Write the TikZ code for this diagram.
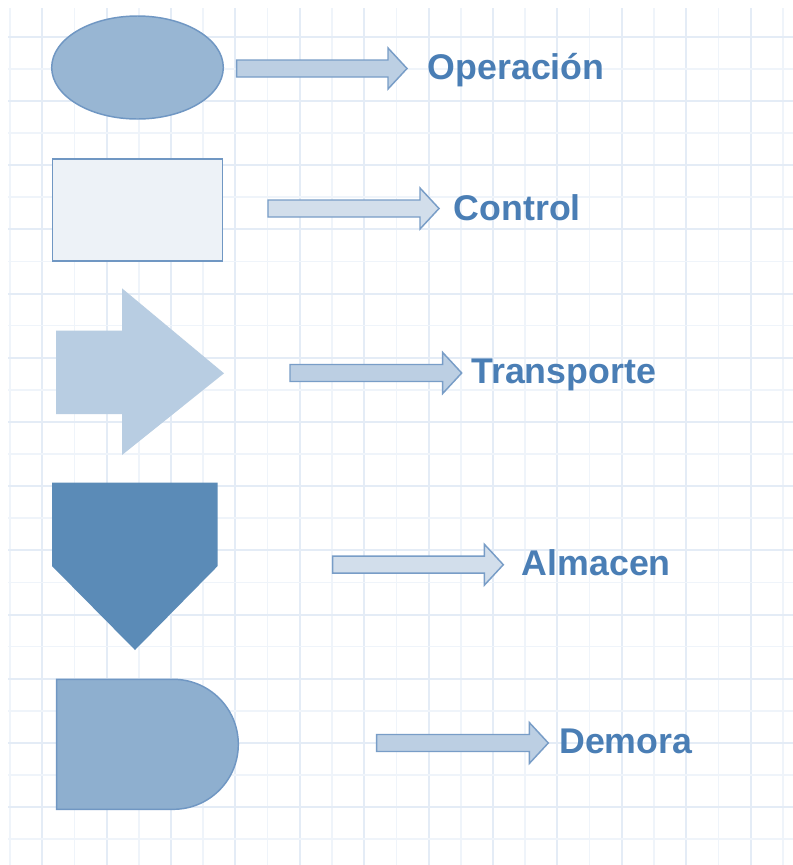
\documentclass[tikz,border=0pt]{standalone}
\usepackage{fontspec}
\setmainfont{Liberation Sans}
\usetikzlibrary{shapes.geometric}

\definecolor{gridstrong}{RGB}{228,236,246}
\definecolor{gridsoft}{RGB}{239,244,250}
\definecolor{labelblue}{RGB}{74,126,181}
\definecolor{edgeblue}{RGB}{112,151,195}
\definecolor{opfill}{RGB}{152,182,211}
\definecolor{ctlfill}{RGB}{237,242,247}
\definecolor{trfill}{RGB}{184,205,226}
\definecolor{stfill}{RGB}{91,139,183}
\definecolor{dlfill}{RGB}{142,175,207}
\definecolor{arrfill}{RGB}{188,207,227}
\definecolor{arrfillpale}{RGB}{210,222,235}
\definecolor{arredge}{RGB}{120,157,199}

\tikzset{
  gridline/.style={line width=1.5pt, gridstrong},
  gridlinesoft/.style={line width=1.1pt, gridsoft},
  symbol/.style={draw=edgeblue, line width=1.1pt, inner sep=0pt, outer sep=0pt},
  legendtext/.style={anchor=base west, inner sep=0pt, text=labelblue,
    font=\fontsize{26.8}{30}\selectfont\bfseries},
  blockarrow/.style={draw=arredge, line width=1.1pt, fill=arrfill, line join=miter},
}

% block arrow: #2 = tail x, #3 = tip x, #4 = centre y
\newcommand{\legendarrow}[4][]{%
  \draw[blockarrow,#1] (#2,#4-8.5) -- (#3-19,#4-8.5) -- (#3-19,#4-20.5)
    -- (#3,#4) -- (#3-19,#4+20.5) -- (#3-19,#4+8.5) -- (#2,#4+8.5) -- cycle;}

\begin{document}
\begin{tikzpicture}[x=0.75pt,y=-0.75pt]
\useasboundingbox (0,0) rectangle (793,865);
\fill[white] (0,0) rectangle (793,865);

% squared paper background
\foreach \k in {0,2,...,24}
  \draw[gridlinesoft] ({10+32.2*\k},8) -- ({10+32.2*\k},865);
\foreach \k in {1,3,...,23}
  \draw[gridline] ({10+32.2*\k},8) -- ({10+32.2*\k},865);
\foreach \k in {1,3,...,25}
  \draw[gridlinesoft] (8,{36.7+32.1*\k}) -- (793,{36.7+32.1*\k});
\foreach \k in {0,2,...,24}
  \draw[gridline] (8,{36.7+32.1*\k}) -- (793,{36.7+32.1*\k});

% Operación: ellipse
\node[symbol, ellipse, fill=opfill, minimum width=128.7pt, minimum height=77.25pt]
  (op) at (137.5,67.5) {};
% Control: rectangle
\node[symbol, rectangle, fill=ctlfill, minimum width=127.5pt, minimum height=76.5pt]
  (ctl) at (137.7,210) {};
% Transporte: fat arrow
\fill[trfill] (56,330.7) -- (122,330.7) -- (122,288.3) -- (224,373.3)
  -- (122,455) -- (122,414) -- (56,414) -- cycle;
\coordinate (tr) at (140,373);
% Almacen: inverted pentagon
\fill[stfill] (52,482.7) -- (217.7,482.7) -- (217.7,566) -- (135,650)
  -- (52,566) -- cycle;
\coordinate (st) at (135,560);
% Demora: D shape
\draw[symbol, fill=dlfill] (56.7,679.3) -- (173.3,679.3)
  arc[start angle=90, end angle=-90, x radius=65, y radius=-65]
  -- (56.7,809.3) -- cycle;
\coordinate (dl) at (140,744);

% arrows pointing to the names
\legendarrow{236.7}{407}{68.5}
\legendarrow[fill=arrfillpale]{268}{439}{208.5}
\legendarrow{290}{461.7}{373}
\legendarrow[fill=arrfillpale]{332.7}{503.3}{564.7}
\legendarrow{376.7}{548.3}{743}

% names
\node[legendtext] (opname) at (427.5,79.5) {Operación};
\node[legendtext] (ctlname) at (453.5,220) {Control};
\node[legendtext] (trname) at (471,383.5) {Transporte};
\node[legendtext] (stname) at (521.5,575) {Almacen};
\node[legendtext] (dlname) at (559,753) {Demora};
\end{tikzpicture}
\end{document}
